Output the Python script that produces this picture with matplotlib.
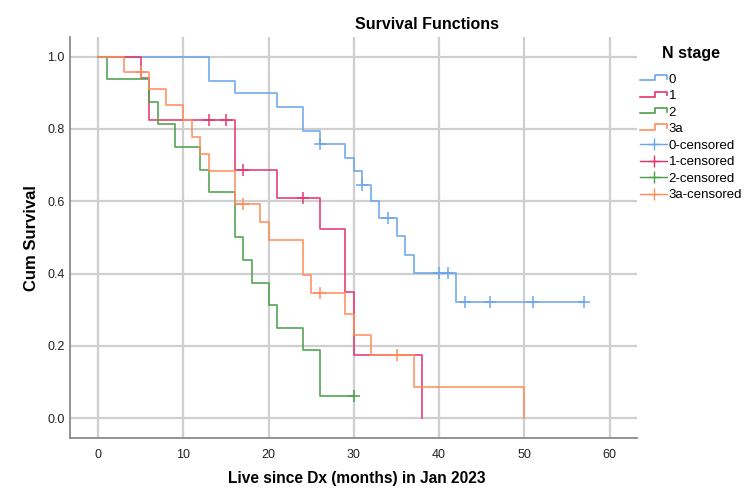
"""Kaplan-Meier survival functions by N stage"""
import matplotlib
matplotlib.use("Agg")
import matplotlib.pyplot as plt
from matplotlib.lines import Line2D
from matplotlib.legend_handler import HandlerBase

plt.rcParams['font.family'] = ['Liberation Sans', 'DejaVu Sans']

# ---- data ----
groups = ['0', '1', '2', '3a']
colors = ['#6AA5EC', '#E2366A', '#4C9F4A', '#FF8D5C']

t0 = [0, 13, 16, 21, 24, 26, 29, 30, 31, 32, 33, 35, 36, 37, 42, 57]
s0 = [1, 0.933, 0.9, 0.862, 0.795, 0.758, 0.721, 0.683, 0.645, 0.600, 0.554, 0.503, 0.452, 0.402, 0.322, 0.322]
c0_t = [26, 31, 34, 40, 41, 43, 46, 51, 57]
c0_s = [0.758, 0.645, 0.554, 0.402, 0.402, 0.322, 0.322, 0.322, 0.322]

t1 = [0, 5, 6, 16, 21, 26, 29, 30, 38]
s1 = [1, 0.941, 0.824, 0.686, 0.610, 0.523, 0.349, 0.175, 0]
c1_t = [13, 15, 17, 24]
c1_s = [0.824, 0.824, 0.686, 0.610]

t2 = [0, 1, 6, 7, 9, 12, 13, 16, 17, 18, 20, 21, 24, 26, 30]
s2 = [1, 0.9375, 0.875, 0.8125, 0.75, 0.6875, 0.625, 0.5, 0.4375, 0.375, 0.3125, 0.25, 0.1875, 0.0625, 0.0625]
c2_t = [30]
c2_s = [0.0625]

t3 = [0, 3, 6, 8, 10, 11, 12, 13, 16, 19, 20, 24, 25, 29, 30, 32, 37, 50]
s3 = [1, 0.958, 0.91, 0.867, 0.825, 0.777, 0.731, 0.685, 0.593, 0.543, 0.494, 0.396, 0.346, 0.288, 0.231, 0.175, 0.0875, 0]
c3_t = [5, 17, 26, 35]
c3_s = [0.958, 0.593, 0.346, 0.175]

curves = [(t0, s0), (t1, s1), (t2, s2), (t3, s3)]
censors = [(c0_t, c0_s), (c1_t, c1_s), (c2_t, c2_s), (c3_t, c3_s)]

x_ticks = [0, 10, 20, 30, 40, 50, 60]
y_ticks = [0.0, 0.2, 0.4, 0.6, 0.8, 1.0]


class StepHandler(HandlerBase):
    # legend icon shaped like a small step
    def create_artists(self, legend, orig, xd, yd, w, h, fontsize, trans):
        xs = [xd, xd + w * 0.55, xd + w * 0.55, xd + w, xd + w]
        ys = [yd + h * 0.3, yd + h * 0.3, yd + h * 0.85, yd + h * 0.85, yd + h * 0.45]
        ln = Line2D(xs, ys, color=orig.get_color(), lw=1.2, transform=trans)
        return [ln]


fig = plt.figure(figsize=(7.5, 4.9), dpi=100)
ax = fig.add_axes([0.0933, 0.106, 0.756, 0.819])

step_handles, cens_handles = [], []
for (t, s), (ct, cs), c, g in zip(curves, censors, colors, groups):
    ax.step(t, s, where='post', color=c, lw=1.25, alpha=0.9)
    ax.plot(ct, cs, ls='none', marker='+', ms=8, mew=1.2, color=c, alpha=0.9)
    step_handles.append(Line2D([], [], color=c, label=g))
    cens_handles.append(Line2D([], [], color=c, marker='+', ms=9, mew=1.0, lw=1.0,
                               label=g + '-censored'))

ax.set_xlim(-3.3, 63.2)
ax.set_ylim(-0.055, 1.055)
ax.set_xticks(x_ticks)
ax.set_yticks(y_ticks)
ax.set_yticklabels(['%.1f' % v for v in y_ticks])
ax.grid(True, color='#cfcfcf', lw=1.6)
ax.set_axisbelow(True)
for sp in ['top', 'right']:
    ax.spines[sp].set_visible(False)
for sp in ['left', 'bottom']:
    ax.spines[sp].set_color('#8a8a8a')
    ax.spines[sp].set_linewidth(1.3)
ax.tick_params(length=0, labelsize=9, colors='#222222')
ax.tick_params(axis='x', pad=8)
ax.tick_params(axis='y', pad=4)

fig.text(0.569, 0.949, 'Survival Functions', ha='center', va='center',
         fontsize=11.5, fontweight='bold')
fig.text(0.475, 0.024, 'Live since Dx (months) in Jan 2023', ha='center', va='center',
         fontsize=11.2, fontweight='bold')
fig.text(0.042, 0.515, 'Cum Survival', ha='center', va='center', rotation=90,
         fontsize=12, fontweight='bold')

handler_map = {h: StepHandler() for h in step_handles}
leg = fig.legend(handles=step_handles + cens_handles, loc='upper left',
                 bbox_to_anchor=(0.838, 0.93), frameon=False, fontsize=9.5,
                 title='N stage', title_fontproperties={'weight': 'bold', 'size': 11.5},
                 handlelength=2.0, handletextpad=0.15, labelspacing=0.32,
                 handler_map=handler_map)
leg._legend_box.align = 'center'
leg._legend_box.sep = 9

plt.savefig('out.png', dpi=100)
plt.close()
